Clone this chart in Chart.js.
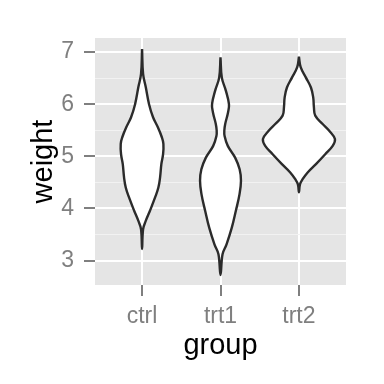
<!DOCTYPE html>
<html>
<head>
<meta charset="utf-8">
<script src="https://cdn.jsdelivr.net/npm/chart.js@4.4.1/dist/chart.umd.min.js"></script>
<style>
  html, body { margin: 0; padding: 0; background: #ffffff; }
  #wrap { width: 384px; height: 384px; }
</style>
</head>
<body>
<div id="wrap"><canvas id="violin-chart" width="384" height="384"></canvas></div>
<script>
// groups along x and the weight ticks on y
const groups = ["ctrl", "trt1", "trt2"];
const weightTicks = [3, 4, 5, 6, 7];

// violin outlines: weight level and half width (in group units)
const ctrlWeight = [7.06, 6.58, 6.33, 6.0, 5.75, 5.56, 5.37, 5.24, 5.04, 4.85, 4.6, 4.4, 4.21, 3.96, 3.76, 3.6, 3.22];
const ctrlHalf = [0, 0.013, 0.047, 0.089, 0.14, 0.2, 0.251, 0.272, 0.268, 0.246, 0.23, 0.208, 0.166, 0.102, 0.047, 0.013, 0];

const trt1Weight = [6.9, 6.51, 6.26, 6.0, 5.84, 5.62, 5.5, 5.39, 5.2, 4.97, 4.75, 4.53, 4.27, 3.95, 3.63, 3.31, 3.12, 2.72];
const trt1Half = [0, 0.017, 0.068, 0.108, 0.096, 0.06, 0.049, 0.052, 0.093, 0.188, 0.244, 0.261, 0.242, 0.195, 0.144, 0.077, 0.026, 0];

const trt2Weight = [6.91, 6.71, 6.51, 6.32, 6.13, 5.94, 5.78, 5.62, 5.49, 5.33, 5.2, 5.04, 4.85, 4.69, 4.56, 4.46, 4.31];
const trt2Half = [0, 0.022, 0.089, 0.153, 0.182, 0.191, 0.208, 0.302, 0.386, 0.459, 0.43, 0.335, 0.217, 0.111, 0.047, 0.013, 0];

const grey50 = "#7f7f7f";

// walk down the left side, then back up the right side
function outline(center, weights, halves) {
  const pts = weights.map((w, i) => ({ x: center - halves[i], y: w }));
  for (let i = weights.length - 2; i >= 0; i--) {
    pts.push({ x: center + halves[i], y: weights[i] });
  }
  return pts;
}

function violin(center, weights, halves) {
  return {
    data: outline(center, weights, halves),
    borderColor: "#2b2b2b",
    backgroundColor: "#ffffff",
    borderWidth: 2.4,
    fill: "shape",
    tension: 0.4,
    pointRadius: 0,
  };
}

// grey panel behind the grid
const panelBackground = {
  id: "panelBackground",
  beforeDraw(chart) {
    const { ctx, chartArea } = chart;
    ctx.save();
    ctx.fillStyle = "#e5e5e5";
    ctx.fillRect(chartArea.left, chartArea.top, chartArea.right - chartArea.left, chartArea.bottom - chartArea.top);
    ctx.restore();
  },
};

const isMajor = (ctx) => ctx.tick && Math.abs(ctx.tick.value - Math.round(ctx.tick.value)) < 1e-6;

new Chart(document.querySelector("#violin-chart").getContext("2d"), {
  type: "line",
  data: {
    datasets: [
      violin(1, ctrlWeight, ctrlHalf),
      violin(2, trt1Weight, trt1Half),
      violin(3, trt2Weight, trt2Half),
    ],
  },
  options: {
    responsive: false,
    animation: false,
    layout: { padding: { top: 38, right: 38, left: 0, bottom: 0 } },
    plugins: { legend: { display: false }, tooltip: { enabled: false } },
    scales: {
      x: {
        type: "linear",
        min: 0.4,
        max: 3.6,
        afterBuildTicks: (scale) => {
          scale.ticks = groups.map((g, i) => ({ value: i + 1 }));
        },
        afterFit: (scale) => {
          scale.height = 99;
        },
        border: { display: false },
        grid: { color: "#ffffff", lineWidth: 2, tickColor: grey50, tickLength: 11, tickWidth: 2 },
        ticks: {
          padding: 7,
          color: grey50,
          font: { family: "Liberation Sans", size: 23 },
          callback: (v) => groups[Math.round(v) - 1],
        },
        title: {
          display: true,
          text: "group",
          color: "#000000",
          font: { family: "Liberation Sans", size: 29 },
          padding: { top: 0, bottom: 21 },
        },
      },
      y: {
        type: "linear",
        min: 2.53,
        max: 7.27,
        afterFit: (scale) => {
          scale.width = 95;
        },
        border: { display: false },
        grid: {
          color: (ctx) => (isMajor(ctx) ? "#ffffff" : "#f2f2f2"),
          lineWidth: (ctx) => (isMajor(ctx) ? 2 : 1),
          tickColor: (ctx) => (isMajor(ctx) ? grey50 : "rgba(0,0,0,0)"),
          tickWidth: 2,
          tickLength: 11,
        },
        ticks: {
          stepSize: 0.5,
          includeBounds: false,
          padding: 10,
          color: grey50,
          font: { family: "Liberation Sans", size: 23 },
          callback: (v) => (weightTicks.includes(v) ? String(v) : ""),
        },
        title: {
          display: true,
          text: "weight",
          color: "#000000",
          font: { family: "Liberation Sans", size: 29 },
          padding: { top: 27, bottom: 0 },
        },
      },
    },
  },
  plugins: [panelBackground],
});
</script>
</body>
</html>
